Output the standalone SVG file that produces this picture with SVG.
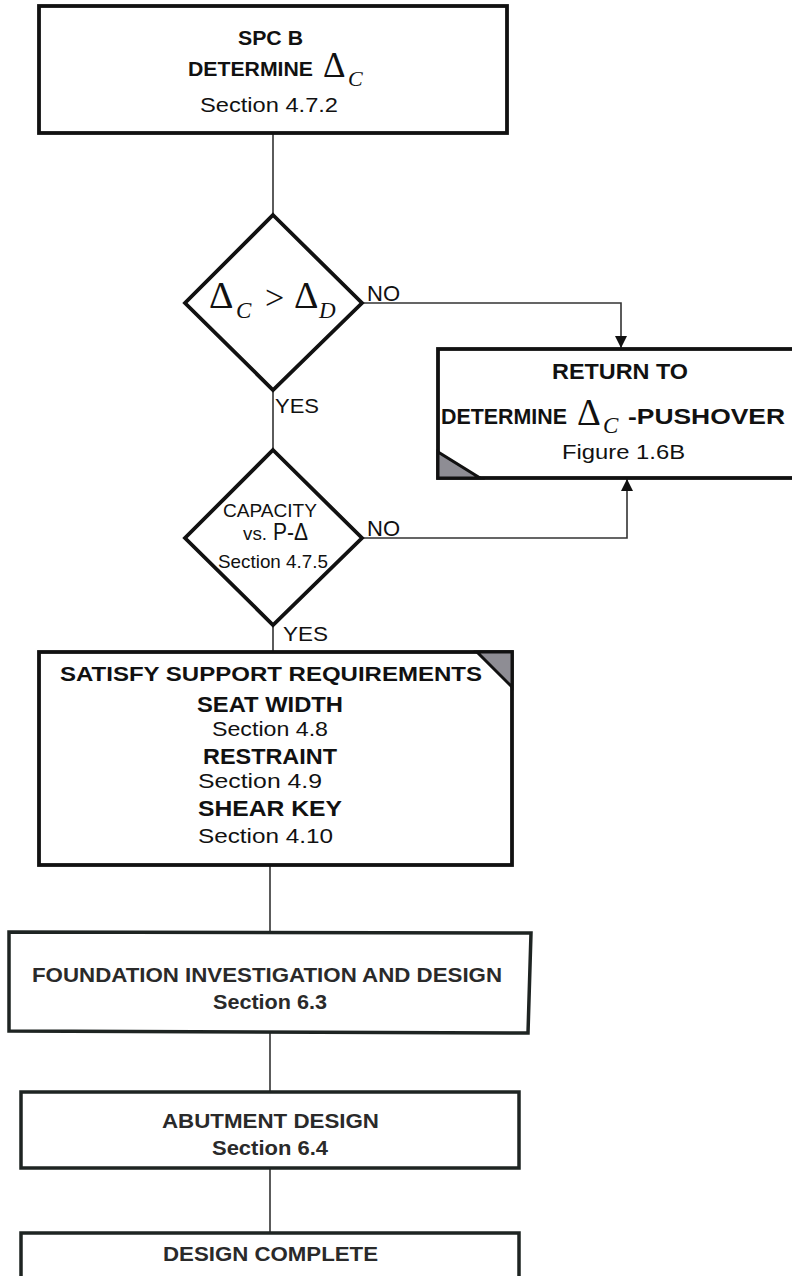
<svg xmlns="http://www.w3.org/2000/svg" width="792" height="1276" viewBox="0 0 792 1276">
<defs>
<style>
.box{fill:#fff;stroke:#111;stroke-width:3.8}
.box2{fill:#fff;stroke:#1e2422;stroke-width:3.5}
.tri{fill:#8e8d94;stroke:#111;stroke-width:3}
.conn{fill:none;stroke:#333;stroke-width:1.6}
.b{font-family:"Liberation Sans",Arial,sans-serif;font-weight:bold;fill:#111}
.r{font-family:"Liberation Sans",Arial,sans-serif;fill:#111}
.g{font-family:"Liberation Sans",Arial,sans-serif;font-weight:bold;fill:#2a2a2a}
.d{font-family:"Liberation Serif","Times New Roman",serif;fill:#111}
.i{font-family:"Liberation Serif","Times New Roman",serif;font-style:italic;fill:#111}
</style>
<marker id="arr" markerUnits="userSpaceOnUse" markerWidth="14" markerHeight="14" refX="12" refY="6" orient="auto">
<path d="M0,0 L12,6 L0,12 Z" fill="#111"/>
</marker>
</defs>
<rect width="792" height="1276" fill="#fff"/>

<g id="connectors">
<line class="conn" x1="273" y1="133" x2="273" y2="215"/>
<polyline class="conn" points="362,303 621,303 621,348" marker-end="url(#arr)"/>
<line class="conn" x1="273" y1="390" x2="273" y2="450"/>
<polyline class="conn" points="362,538 627,538 627,479" marker-end="url(#arr)"/>
<line class="conn" x1="273" y1="625" x2="273" y2="652"/>
<line class="conn" x1="270" y1="865" x2="270" y2="932"/>
<line class="conn" x1="270" y1="1033" x2="270" y2="1092"/>
<line class="conn" x1="270" y1="1168" x2="270" y2="1233"/>
<text class="r" x="367" y="301" font-size="22" textLength="33" lengthAdjust="spacingAndGlyphs">NO</text>
<text class="r" x="275" y="413" font-size="21" textLength="44" lengthAdjust="spacingAndGlyphs">YES</text>
<text class="r" x="367" y="536" font-size="22" textLength="33" lengthAdjust="spacingAndGlyphs">NO</text>
<text class="r" x="283" y="641" font-size="21" textLength="45" lengthAdjust="spacingAndGlyphs">YES</text>
</g>

<g id="spc-b">
<rect class="box" x="39" y="6" width="468" height="127"/>
<text class="b" x="238" y="45" font-size="20" textLength="65" lengthAdjust="spacingAndGlyphs">SPC B</text>
<text class="b" x="188" y="76" font-size="20" textLength="125" lengthAdjust="spacingAndGlyphs">DETERMINE</text>
<text class="d" x="323" y="77" font-size="35">Δ</text>
<text class="i" x="348" y="86" font-size="22">C</text>
<text class="r" x="200" y="112" font-size="21" textLength="138" lengthAdjust="spacingAndGlyphs">Section 4.7.2</text>
</g>

<g id="check-delta">
<polygon class="box" points="273,215 362,303 273,390 185,303"/>
<text class="d" x="209" y="308" font-size="38">Δ</text>
<text class="i" x="236" y="318" font-size="23">C</text>
<text class="d" x="265" y="309" font-size="34">&gt;</text>
<text class="d" x="294" y="308" font-size="38">Δ</text>
<text class="i" x="319" y="318" font-size="23">D</text>
</g>

<g id="return-to">
<rect class="box" x="438" y="349" width="370" height="129"/>
<polygon class="tri" points="438,452 438,478 480,478"/>
<text class="b" x="552" y="379" font-size="22" textLength="136" lengthAdjust="spacingAndGlyphs">RETURN TO</text>
<text class="b" x="441" y="424" font-size="22" textLength="126" lengthAdjust="spacingAndGlyphs">DETERMINE</text>
<text class="d" x="577" y="425" font-size="37">Δ</text>
<text class="i" x="603" y="433" font-size="23">C</text>
<text class="b" x="628" y="424" font-size="22" textLength="157" lengthAdjust="spacingAndGlyphs">-PUSHOVER</text>
<text class="r" x="562" y="459" font-size="21" textLength="123" lengthAdjust="spacingAndGlyphs">Figure 1.6B</text>
</g>

<g id="capacity">
<polygon class="box" points="273,450 362,538 273,625 185,538"/>
<text class="r" x="223" y="517" font-size="19" textLength="94" lengthAdjust="spacingAndGlyphs">CAPACITY</text>
<text class="r" x="243" y="540" font-size="18" textLength="24" lengthAdjust="spacingAndGlyphs">vs.</text>
<text class="r" x="273" y="540" font-size="23" textLength="35" lengthAdjust="spacingAndGlyphs">P-Δ</text>
<text class="r" x="218" y="568" font-size="19" textLength="110" lengthAdjust="spacingAndGlyphs">Section 4.7.5</text>
</g>

<g id="support">
<rect class="box" x="39" y="652" width="473" height="213"/>
<polygon class="tri" points="477,652 512,652 512,687"/>
<text class="b" x="60" y="681" font-size="21" textLength="422" lengthAdjust="spacingAndGlyphs">SATISFY SUPPORT REQUIREMENTS</text>
<text class="b" x="197" y="712" font-size="22" textLength="146" lengthAdjust="spacingAndGlyphs">SEAT WIDTH</text>
<text class="r" x="212" y="736" font-size="21" textLength="116" lengthAdjust="spacingAndGlyphs">Section 4.8</text>
<text class="b" x="203" y="764" font-size="22" textLength="134" lengthAdjust="spacingAndGlyphs">RESTRAINT</text>
<text class="r" x="198" y="788" font-size="21" textLength="124" lengthAdjust="spacingAndGlyphs">Section 4.9</text>
<text class="b" x="198" y="816" font-size="22" textLength="144" lengthAdjust="spacingAndGlyphs">SHEAR KEY</text>
<text class="r" x="198" y="843" font-size="21" textLength="135" lengthAdjust="spacingAndGlyphs">Section 4.10</text>
</g>

<g id="foundation">
<polygon class="box2" points="9,932 531,933 528,1033 9,1031"/>
<text class="g" x="32" y="982" font-size="20" textLength="470" lengthAdjust="spacingAndGlyphs">FOUNDATION INVESTIGATION AND DESIGN</text>
<text class="g" x="213" y="1009" font-size="20" textLength="114" lengthAdjust="spacingAndGlyphs">Section 6.3</text>
</g>

<g id="abutment">
<rect class="box2" x="21" y="1092" width="498" height="76"/>
<text class="g" x="162" y="1128" font-size="20" textLength="217" lengthAdjust="spacingAndGlyphs">ABUTMENT DESIGN</text>
<text class="g" x="212" y="1155" font-size="20" textLength="116" lengthAdjust="spacingAndGlyphs">Section 6.4</text>
</g>

<g id="design-complete">
<rect class="box2" x="21" y="1233" width="498" height="70"/>
<text class="g" x="163" y="1261" font-size="20" textLength="215" lengthAdjust="spacingAndGlyphs">DESIGN COMPLETE</text>
</g>
</svg>
